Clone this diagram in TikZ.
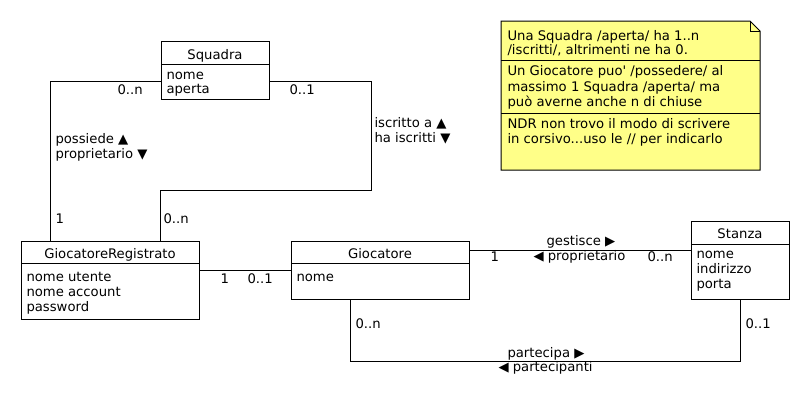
\documentclass[tikz,border=0pt]{standalone}
\usepackage{fontspec}
\setmainfont{DejaVu Sans}[Ligatures=TeXOff]
\usetikzlibrary{calc}
\definecolor{noteyellow}{RGB}{255,255,136}
\begin{document}
\begin{tikzpicture}[x=1pt,y=-1pt,line width=1pt,
  cls/.style={draw,anchor=north west,inner sep=0,fill=white},
  txt/.style={anchor=base west,inner sep=0,font=\fontsize{13.2}{15}\selectfont},
  ttl/.style={anchor=base,inner sep=0,font=\fontsize{13.2}{15}\selectfont},
  lnk/.style={draw,line width=1pt}]
\useasboundingbox (0,0) rectangle (810,410);

% note
\node[anchor=north west,inner sep=0,minimum width=258pt,minimum height=148pt] (note) at (501,21) {};
\draw[fill=noteyellow] (note.north west) -- ($(note.north east)+(-10,0)$) -- ($(note.north east)+(0,10)$) -- (note.south east) -- (note.south west) -- cycle;
\draw ($(note.north east)+(-10,0)$) -- ($(note.north east)+(-10,10)$) -- ($(note.north east)+(0,10)$);
\draw ($(note.north west)+(0,39)$) -- ($(note.north east)+(0,39)$);
\draw ($(note.north west)+(0,92)$) -- ($(note.north east)+(0,92)$);
\node[txt] (n1) at (507,40) {Una Squadra /aperta/ ha 1..n};
\node[txt] (n2) at (507,54) {/iscritti/, altrimenti ne ha 0.};
\node[txt] (n3) at (507,75) {Un Giocatore puo' /possedere/ al};
\node[txt] (n4) at (507,91) {massimo 1 Squadra /aperta/ ma};
\node[txt] (n5) at (507,106) {può averne anche n di chiuse};
\node[txt] (n6) at (507,128) {NDR non trovo il modo di scrivere};
\node[txt] (n7) at (507,143) {in corsivo...uso le // per indicarlo};

% classes
\node[cls,minimum width=108pt,minimum height=58pt] (sq) at (161,41) {};
\node[cls,minimum width=178pt,minimum height=78pt] (gr) at (21,241) {};
\node[cls,minimum width=178pt,minimum height=58pt] (gio) at (291,241) {};
\node[cls,minimum width=98pt,minimum height=78pt] (st) at (691,221) {};

\draw ($(sq.north west)+(0,23)$) -- ($(sq.north east)+(0,23)$);
\draw ($(gr.north west)+(0,22)$) -- ($(gr.north east)+(0,22)$);
\draw ($(gio.north west)+(0,22)$) -- ($(gio.north east)+(0,22)$);
\draw ($(st.north west)+(0,23)$) -- ($(st.north east)+(0,23)$);

\node[ttl] (sqt) at (215,59) {Squadra};
\node[txt] (sqa1) at (166,79) {nome};
\node[txt] (sqa2) at (166,93) {aperta};

\node[ttl] (grt) at (110,258) {GiocatoreRegistrato};
\node[txt] (gra1) at (26,281) {nome utente};
\node[txt] (gra2) at (26,296) {nome account};
\node[txt] (gra3) at (26,311) {password};

\node[ttl] (giot) at (380,258) {Giocatore};
\node[txt] (gioa1) at (296,281) {nome};

\node[ttl] (stt) at (740,238) {Stanza};
\node[txt] (sta1) at (696,258) {nome};
\node[txt] (sta2) at (696,273) {indirizzo};
\node[txt] (sta3) at (696,288) {porta};

% connectors
\draw[lnk] ($(sq.north west)+(0,40)$) -| ($(gr.north west)+(29,0)$);
\draw[lnk] ($(sq.north east)+(0,40)$) -| ($(sq.north east)+(101,149)$) -| ($(gr.north west)+(139,0)$);
\draw[lnk] ($(gr.north east)+(0,29)$) -- ($(gio.north west)+(0,29)$);
\draw[lnk] ($(gio.north east)+(0,9)$) -- ($(st.north west)+(0,29)$);
\draw[lnk] ($(gio.south west)+(59,0)$) |- ($(st.south west)+(49,61)$) -- ($(st.south west)+(49,0)$);

% labels
\node[txt] (m1) at (117,94) {0..n};
\node[txt] (m2) at (289,94) {0..1};
\node[txt] (l1) at (55,143) {possiede ▲};
\node[txt] (l2) at (55,158) {proprietario ▼};
\node[txt] (l3) at (374,127) {iscritto a ▲};
\node[txt] (l4) at (374,142) {ha iscritti ▼};
\node[txt] (m3) at (55,223) {1};
\node[txt] (m4) at (163,223) {0..n};
\node[txt] (m5) at (220,283) {1};
\node[txt] (m6) at (247,283) {0..1};
\node[txt] (m7) at (355,328) {0..n};
\node[txt] (l5) at (546,245) {gestisce ▶};
\node[txt] (l6) at (533,260) {◀ proprietario};
\node[txt] (m8) at (490,261) {1};
\node[txt] (m9) at (647,261) {0..n};
\node[txt] (m10) at (745,328) {0..1};
\node[txt] (l7) at (507,357) {partecipa ▶};
\node[txt] (l8) at (498,371) {◀ partecipanti};
\end{tikzpicture}
\end{document}
